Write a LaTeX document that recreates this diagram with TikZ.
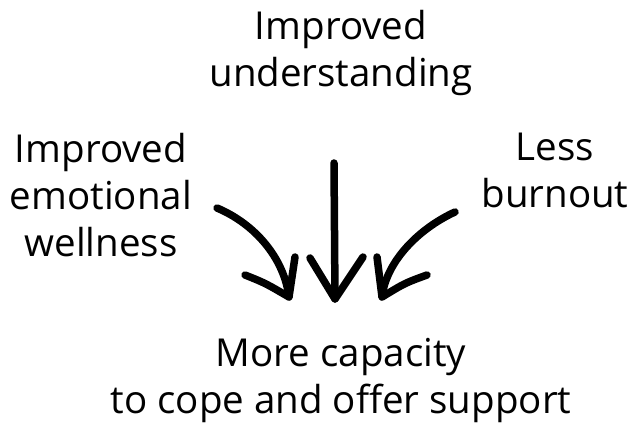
\documentclass[tikz,border=0pt]{standalone}
\usepackage{fontspec}
\setmainfont{Open Sans}
\begin{document}
\begin{tikzpicture}[x=1pt,y=-1pt,
  lbl/.style={inner sep=0pt, align=center, font=\fontsize{38.5}{47}\selectfont, anchor=base},
  stroke/.style={line width=7.5pt, line cap=round, line join=round}]
\useasboundingbox (0,0) rectangle (629,427);
\node[lbl] (top) at (341,87) {Improved\\understanding};
\node[lbl] (left) at (101,257) {Improved\\emotional\\wellness};
\node[lbl] (right) at (555,208) {Less\\burnout};
\node[lbl] (bottom) at (341,413) {More capacity\\to cope and offer support};
% arrows
\coordinate (ls) at (217,208); \coordinate (lt) at (289,297);
\coordinate (ms) at (334,163); \coordinate (mt) at (335,299);
\coordinate (rs) at (455,212); \coordinate (rt) at (382,297);
\draw[stroke] (ls) .. controls (255,224) and (284,258) .. (lt);
\draw[stroke] (245,275) .. controls (265,283) .. (lt) -- (295,257);
\draw[stroke] (ms) -- (mt);
\draw[stroke] (310,258) -- (mt) -- (363,257);
\draw[stroke] (rs) .. controls (418,229) and (386,262) .. (rt);
\draw[stroke] (377,257) -- (rt) .. controls (405,283) .. (427,275);
\end{tikzpicture}
\end{document}
